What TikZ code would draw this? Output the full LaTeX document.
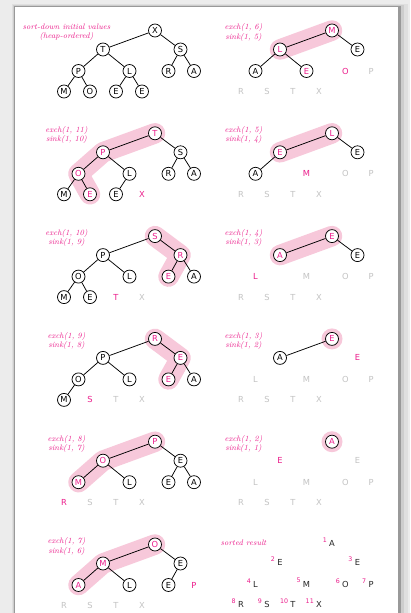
\documentclass[tikz,border=0pt]{standalone}
\usepackage{fontspec}
\newfontfamily\hsans{DejaVu Sans}
\definecolor{hmag}{RGB}{236,30,140}
\definecolor{hgray}{RGB}{195,195,195}
\definecolor{pinkband}{RGB}{247,200,218}
\definecolor{bggray}{RGB}{236,236,236}
\newcommand\hletter{\fontsize{8.3}{9}\selectfont\hsans}
\newcommand\hlabel{\fontsize{8}{9.3}\selectfont\itshape}
\newcommand\hnum{\fontsize{6.3}{7}\selectfont\hsans}
\newcommand\slots{%
\coordinate (p1) at (0,0);
\coordinate (p2) at (-52,19);
\coordinate (p3) at (25.5,19);
\coordinate (p4) at (-76.5,40.5);
\coordinate (p5) at (-25.5,40.5);
\coordinate (p6) at (13.5,40.5);
\coordinate (p7) at (39,40.5);
\coordinate (p8) at (-91,61);
\coordinate (p9) at (-65,61);
\coordinate (p10) at (-39,61);
\coordinate (p11) at (-13,61);
\coordinate (plab) at (-88.5,2);}
\tikzset{
  hn/.style={circle, draw=black, line width=0.75pt, fill=white, minimum size=13pt, inner sep=0pt, font=\hletter, text=black},
  hm/.style={hn, text=hmag},
  um/.style={inner sep=0pt, font=\hletter, text=hmag},
  ug/.style={inner sep=0pt, font=\hletter, text=hgray},
  sl/.style={inner sep=0pt, font=\hletter, text=black!85},
  nm/.style={inner sep=0pt, font=\hnum, text=hmag, anchor=east},
  band/.style={line width=20.5pt, line cap=round, line join=round, draw=pinkband},
  halo/.style={fill=pinkband},
  edge/.style={line width=0.75pt, draw=black},
  lab/.style={font=\hlabel, text=hmag, align=center},
}
\begin{document}
\begin{tikzpicture}[x=1pt,y=-1pt]
\useasboundingbox (0,0) rectangle (410,613);
% background and panel
\fill[bggray] (0,0) rectangle (410,613);
\fill[black,opacity=0.05] (12,4) rectangle (408,613);
\fill[black,opacity=0.08] (13,5) rectangle (404,613);
\fill[black,opacity=0.25] (14,6) rectangle (401,613);
\fill[white] (15,7) rectangle (398,613);

% ---------- Panel A : initial heap ----------
\begin{scope}[shift={(155,30.5)}]
\slots
\node[hn] (A1) at (p1) {X};
\node[hn] (A2) at (p2) {T};
\node[hn] (A3) at (p3) {S};
\node[hn] (A4) at (p4) {P};
\node[hn] (A5) at (p5) {L};
\node[hn] (A6) at (p6) {R};
\node[hn] (A7) at (p7) {A};
\node[hn] (A8) at (p8) {M};
\node[hn] (A9) at (p9) {O};
\node[hn] (A10) at (p10) {E};
\node[hn] (A11) at (p11) {E};
\draw[edge] (A1)--(A2) (A1)--(A3) (A2)--(A4) (A2)--(A5) (A3)--(A6) (A3)--(A7)
  (A4)--(A8) (A4)--(A9) (A5)--(A10) (A5)--(A11);
\node[lab] (Alab) at (plab) {sort-down initial values\\(heap-ordered)};
\end{scope}

% ---------- Panel B : exch(1,11) ----------
\begin{scope}[shift={(155,133.3)}]
\slots
\draw[band] (p1)--(p2)--(p4)--(p9);
\node[hm] (B1) at (p1) {T};
\node[hm] (B2) at (p2) {P};
\node[hn] (B3) at (p3) {S};
\node[hm] (B4) at (p4) {O};
\node[hn] (B5) at (p5) {L};
\node[hn] (B6) at (p6) {R};
\node[hn] (B7) at (p7) {A};
\node[hn] (B8) at (p8) {M};
\node[hm] (B9) at (p9) {E};
\node[hn] (B10) at (p10) {E};
\node[um] (B11) at (p11) {X};
\draw[edge] (B1)--(B2) (B1)--(B3) (B2)--(B4) (B2)--(B5) (B3)--(B6) (B3)--(B7)
  (B4)--(B8) (B4)--(B9) (B5)--(B10);
\node[lab] (Blab) at (plab) {exch(1, 11)\\sink(1, 10)};
\end{scope}

% ---------- Panel C : exch(1,10) ----------
\begin{scope}[shift={(155,236.1)}]
\slots
\draw[band] (p1)--(p3)--(p6);
\node[hm] (C1) at (p1) {S};
\node[hn] (C2) at (p2) {P};
\node[hm] (C3) at (p3) {R};
\node[hn] (C4) at (p4) {O};
\node[hn] (C5) at (p5) {L};
\node[hm] (C6) at (p6) {E};
\node[hn] (C7) at (p7) {A};
\node[hn] (C8) at (p8) {M};
\node[hn] (C9) at (p9) {E};
\node[um] (C10) at (p10) {T};
\node[ug] (C11) at (p11) {X};
\draw[edge] (C1)--(C2) (C1)--(C3) (C2)--(C4) (C2)--(C5) (C3)--(C6) (C3)--(C7)
  (C4)--(C8) (C4)--(C9);
\node[lab] (Clab) at (plab) {exch(1, 10)\\sink(1, 9)};
\end{scope}

% ---------- Panel D : exch(1,9) ----------
\begin{scope}[shift={(155,338.9)}]
\slots
\draw[band] (p1)--(p3)--(p6);
\node[hm] (D1) at (p1) {R};
\node[hn] (D2) at (p2) {P};
\node[hm] (D3) at (p3) {E};
\node[hn] (D4) at (p4) {O};
\node[hn] (D5) at (p5) {L};
\node[hm] (D6) at (p6) {E};
\node[hn] (D7) at (p7) {A};
\node[hn] (D8) at (p8) {M};
\node[um] (D9) at (p9) {S};
\node[ug] (D10) at (p10) {T};
\node[ug] (D11) at (p11) {X};
\draw[edge] (D1)--(D2) (D1)--(D3) (D2)--(D4) (D2)--(D5) (D3)--(D6) (D3)--(D7)
  (D4)--(D8);
\node[lab] (Dlab) at (plab) {exch(1, 9)\\sink(1, 8)};
\end{scope}

% ---------- Panel E : exch(1,8) ----------
\begin{scope}[shift={(155,441.7)}]
\slots
\draw[band] (p1)--(p2)--(p4);
\node[hm] (E1) at (p1) {P};
\node[hm] (E2) at (p2) {O};
\node[hn] (E3) at (p3) {E};
\node[hm] (E4) at (p4) {M};
\node[hn] (E5) at (p5) {L};
\node[hn] (E6) at (p6) {E};
\node[hn] (E7) at (p7) {A};
\node[um] (E8) at (p8) {R};
\node[ug] (E9) at (p9) {S};
\node[ug] (E10) at (p10) {T};
\node[ug] (E11) at (p11) {X};
\draw[edge] (E1)--(E2) (E1)--(E3) (E2)--(E4) (E2)--(E5) (E3)--(E6) (E3)--(E7);
\node[lab] (Elab) at (plab) {exch(1, 8)\\sink(1, 7)};
\end{scope}

% ---------- Panel F : exch(1,7) ----------
\begin{scope}[shift={(155,544.5)}]
\slots
\draw[band] (p1)--(p2)--(p4);
\node[hm] (F1) at (p1) {O};
\node[hm] (F2) at (p2) {M};
\node[hn] (F3) at (p3) {E};
\node[hm] (F4) at (p4) {A};
\node[hn] (F5) at (p5) {L};
\node[hn] (F6) at (p6) {E};
\node[um] (F7) at (p7) {P};
\node[ug] (F8) at (p8) {R};
\node[ug] (F9) at (p9) {S};
\node[ug] (F10) at (p10) {T};
\node[ug] (F11) at (p11) {X};
\draw[edge] (F1)--(F2) (F1)--(F3) (F2)--(F4) (F2)--(F5) (F3)--(F6);
\node[lab] (Flab) at (plab) {exch(1, 7)\\sink(1, 6)};
\end{scope}

% ---------- Panel G : exch(1,6) ----------
\begin{scope}[shift={(332,30.5)}]
\slots
\draw[band] (p1)--(p2);
\node[hm] (G1) at (p1) {M};
\node[hm] (G2) at (p2) {L};
\node[hn] (G3) at (p3) {E};
\node[hn] (G4) at (p4) {A};
\node[hm] (G5) at (p5) {E};
\node[um] (G6) at (p6) {O};
\node[ug] (G7) at (p7) {P};
\node[ug] (G8) at (p8) {R};
\node[ug] (G9) at (p9) {S};
\node[ug] (G10) at (p10) {T};
\node[ug] (G11) at (p11) {X};
\draw[edge] (G1)--(G2) (G1)--(G3) (G2)--(G4) (G2)--(G5);
\node[lab] (Glab) at (plab) {exch(1, 6)\\sink(1, 5)};
\end{scope}

% ---------- Panel H : exch(1,5) ----------
\begin{scope}[shift={(332,133.3)}]
\slots
\draw[band] (p1)--(p2);
\node[hm] (H1) at (p1) {L};
\node[hm] (H2) at (p2) {E};
\node[hn] (H3) at (p3) {E};
\node[hn] (H4) at (p4) {A};
\node[um] (H5) at (p5) {M};
\node[ug] (H6) at (p6) {O};
\node[ug] (H7) at (p7) {P};
\node[ug] (H8) at (p8) {R};
\node[ug] (H9) at (p9) {S};
\node[ug] (H10) at (p10) {T};
\node[ug] (H11) at (p11) {X};
\draw[edge] (H1)--(H2) (H1)--(H3) (H2)--(H4);
\node[lab] (Hlab) at (plab) {exch(1, 5)\\sink(1, 4)};
\end{scope}

% ---------- Panel I : exch(1,4) ----------
\begin{scope}[shift={(332,236.1)}]
\slots
\draw[band] (p1)--(p2);
\node[hm] (I1) at (p1) {E};
\node[hm] (I2) at (p2) {A};
\node[hn] (I3) at (p3) {E};
\node[um] (I4) at (p4) {L};
\node[ug] (I5) at (p5) {M};
\node[ug] (I6) at (p6) {O};
\node[ug] (I7) at (p7) {P};
\node[ug] (I8) at (p8) {R};
\node[ug] (I9) at (p9) {S};
\node[ug] (I10) at (p10) {T};
\node[ug] (I11) at (p11) {X};
\draw[edge] (I1)--(I2) (I1)--(I3);
\node[lab] (Ilab) at (plab) {exch(1, 4)\\sink(1, 3)};
\end{scope}

% ---------- Panel J : exch(1,3) ----------
\begin{scope}[shift={(332,338.9)}]
\slots
\fill[halo] (p1) circle[radius=10.5];
\node[hm] (J1) at (p1) {E};
\node[hn] (J2) at (p2) {A};
\node[um] (J3) at (p3) {E};
\node[ug] (J4) at (p4) {L};
\node[ug] (J5) at (p5) {M};
\node[ug] (J6) at (p6) {O};
\node[ug] (J7) at (p7) {P};
\node[ug] (J8) at (p8) {R};
\node[ug] (J9) at (p9) {S};
\node[ug] (J10) at (p10) {T};
\node[ug] (J11) at (p11) {X};
\draw[edge] (J1)--(J2);
\node[lab] (Jlab) at (plab) {exch(1, 3)\\sink(1, 2)};
\end{scope}

% ---------- Panel K : exch(1,2) ----------
\begin{scope}[shift={(332,441.7)}]
\slots
\fill[halo] (p1) circle[radius=10.5];
\node[hm] (K1) at (p1) {A};
\node[um] (K2) at (p2) {E};
\node[ug] (K3) at (p3) {E};
\node[ug] (K4) at (p4) {L};
\node[ug] (K5) at (p5) {M};
\node[ug] (K6) at (p6) {O};
\node[ug] (K7) at (p7) {P};
\node[ug] (K8) at (p8) {R};
\node[ug] (K9) at (p9) {S};
\node[ug] (K10) at (p10) {T};
\node[ug] (K11) at (p11) {X};
\node[lab] (Klab) at (plab) {exch(1, 2)\\sink(1, 1)};
\end{scope}

% ---------- Panel L : sorted result ----------
\begin{scope}[shift={(332,543.5)}]
\slots
\node[sl] (L1) at (p1) {A};
\node[sl] (L2) at (p2) {E};
\node[sl] (L3) at (p3) {E};
\node[sl] (L4) at (p4) {L};
\node[sl] (L5) at (p5) {M};
\node[sl] (L6) at (p6) {O};
\node[sl] (L7) at (p7) {P};
\node[sl] (L8) at (p8) {R};
\node[sl] (L9) at (p9) {S};
\node[sl] (L10) at (p10) {T};
\node[sl] (L11) at (p11) {X};
\foreach \i in {1,...,11}{
  \node[nm] (N\i) at ([xshift=-2pt,yshift=3.3pt]L\i.west) {\i};
}
\node[lab] (Llab) at ([yshift=3pt]plab) {sorted result};
\end{scope}
\end{tikzpicture}
\end{document}
